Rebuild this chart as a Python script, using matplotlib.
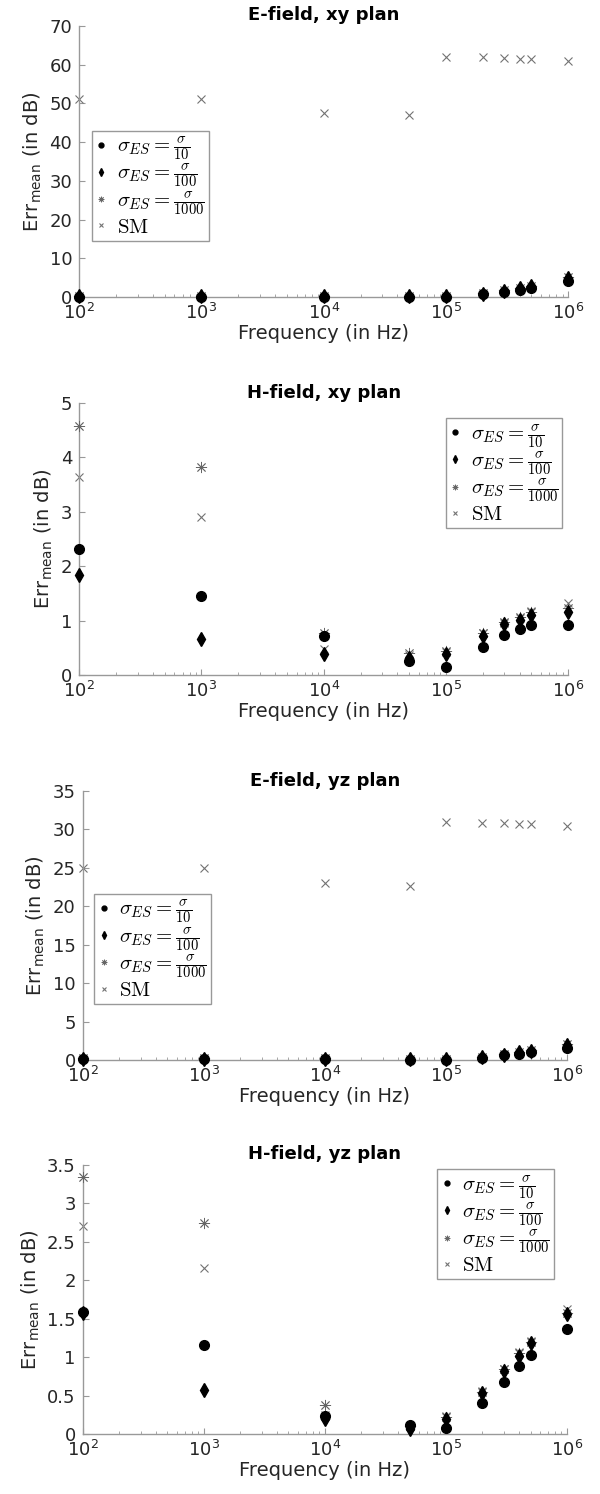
import matplotlib
matplotlib.use("Agg")
import matplotlib.pyplot as plt
from matplotlib.ticker import FixedLocator, FuncFormatter, LogLocator, NullFormatter

plt.rcParams['font.family'] = ['DejaVu Sans']
plt.rcParams['mathtext.fontset'] = 'cm'

freq = [1e2, 1e3, 1e4, 5e4, 1e5, 2e5, 3e5, 4e5, 5e5, 1e6]

# E-field, xy plan
exy_10 = [0.1, 0.1, 0.1, 0.1, 0.1, 0.7, 1.3, 1.9, 2.4, 4.1]
exy_100 = [0.2, 0.2, 0.2, 0.2, 0.3, 0.9, 1.6, 2.2, 2.8, 5.0]
exy_1000 = [0.2, 0.2, 0.2, 0.2, 0.3, 1.0, 1.7, 2.3, 2.9, 5.2]
exy_sm = [51.1, 51.1, 47.4, 47.1, 62.0, 61.9, 61.7, 61.5, 61.4, 60.9]

# H-field, xy plan
hxy_10 = [2.31, 1.46, 0.71, 0.26, 0.15, 0.52, 0.73, 0.84, 0.92, 0.92]
hxy_100 = [1.84, 0.66, 0.39, 0.31, 0.39, 0.72, 0.94, 1.02, 1.10, 1.15]
hxy_1000 = [4.58, 3.83, 0.78, 0.40, 0.45, 0.77, 0.98, 1.06, 1.15, 1.23]
hxy_sm = [3.64, 2.90, 0.47, 0.37, 0.43, 0.77, 0.96, 1.04, 1.17, 1.32]

# E-field, yz plan
eyz_10 = [0.1, 0.1, 0.1, 0.05, 0.05, 0.3, 0.6, 0.8, 1.0, 1.6]
eyz_100 = [0.15, 0.15, 0.15, 0.1, 0.1, 0.4, 0.7, 1.0, 1.2, 2.0]
eyz_1000 = [0.2, 0.2, 0.2, 0.1, 0.1, 0.45, 0.75, 1.05, 1.25, 2.1]
eyz_sm = [25.0, 25.0, 23.0, 22.7, 31.0, 30.9, 30.8, 30.7, 30.7, 30.4]

# H-field, yz plan
hyz_10 = [1.59, 1.16, 0.23, 0.11, 0.08, 0.40, 0.68, 0.89, 1.03, 1.36]
hyz_100 = [1.58, 0.57, 0.19, 0.07, 0.19, 0.53, 0.82, 1.02, 1.18, 1.56]
hyz_1000 = [3.34, 2.74, 0.38, 0.10, 0.22, 0.55, 0.84, 1.05, 1.20, 1.58]
hyz_sm = [2.70, 2.16, 0.25, 0.10, 0.23, 0.56, 0.85, 1.06, 1.21, 1.63]

labels = [r'$\sigma_{ES} = \frac{\sigma}{10}$',
          r'$\sigma_{ES} = \frac{\sigma}{100}$',
          r'$\sigma_{ES} = \frac{\sigma}{1000}$',
          r'$\mathrm{SM}$']

panels = [
    ("E-field, xy plan", [exy_10, exy_100, exy_1000, exy_sm], 70, 10,
     [0.132, 0.8012, 0.815, 0.1814], 'lower left', (0.026, 0.207)),
    ("H-field, xy plan", [hxy_10, hxy_100, hxy_1000, hxy_sm], 5, 1,
     [0.132, 0.5482, 0.815, 0.182], 'upper right', (0.988, 0.945)),
    ("E-field, yz plan", [eyz_10, eyz_100, eyz_1000, eyz_sm], 35, 5,
     [0.138, 0.2905, 0.807, 0.180], 'lower left', (0.024, 0.208)),
    ("H-field, yz plan", [hyz_10, hyz_100, hyz_1000, hyz_sm], 3.5, 0.5,
     [0.138, 0.0402, 0.807, 0.180], 'upper right', (0.973, 0.985)),
]

# black markers drawn above the grey ones
styles = [
    dict(marker='o', color='black', ms=7, ls='none', zorder=5),
    dict(marker='d', color='black', ms=7.5, ls='none', zorder=4),
    dict(marker=(8, 2, 0), color='0.4', ms=8, mew=0.6, ls='none', zorder=3),
    dict(marker='x', color='0.45', ms=6, mew=0.8, ls='none', zorder=2),
]

axis_col = '0.6'
text_col = '0.15'

fig = plt.figure(figsize=(6, 14.94), dpi=100)

for title, series, ymax, ystep, pos, loc, anchor in panels:
    ax = fig.add_axes(pos)
    for vals, st, lab in zip(series, styles, labels):
        ax.plot(freq, vals, label=lab, clip_on=False, **st)
    ax.set_xscale('log')
    ax.set_xlim(1e2, 1e6)
    ax.set_ylim(0, ymax)
    n = int(round(ymax / ystep))
    ax.yaxis.set_major_locator(FixedLocator([i * ystep for i in range(n + 1)]))
    ax.yaxis.set_major_formatter(FuncFormatter(lambda v, p: '%g' % v))
    ax.xaxis.set_major_locator(LogLocator(base=10))
    ax.xaxis.set_minor_locator(LogLocator(base=10, subs=range(2, 10)))
    ax.xaxis.set_minor_formatter(NullFormatter())

    for s in ['top', 'right']:
        ax.spines[s].set_visible(False)
    for s in ['left', 'bottom']:
        ax.spines[s].set_color(axis_col)
        ax.spines[s].set_linewidth(1)
    ax.tick_params(which='both', direction='in', color=axis_col, labelcolor=text_col,
                   labelsize=13)
    ax.tick_params(which='major', length=4)
    ax.tick_params(which='minor', length=2.5)
    ax.tick_params(axis='y', pad=5)
    ax.tick_params(axis='x', pad=4)

    ax.set_title(title, fontsize=13, fontweight='bold', pad=4)
    ax.set_xlabel("Frequency (in Hz)", fontsize=14, color=text_col, labelpad=1)
    ax.set_ylabel(r'Err$_{\mathregular{mean}}$ (in dB)', fontsize=14, color=text_col,
                  labelpad=4)

    leg = ax.legend(loc=loc, bbox_to_anchor=anchor, fontsize=15, fancybox=False,
                    edgecolor=axis_col, framealpha=1, markerscale=0.5,
                    handlelength=0.5, handletextpad=0.5, labelspacing=0.0,
                    borderpad=0.2, borderaxespad=0)
    leg.get_frame().set_linewidth(1)

fig.savefig("out.png", dpi=100)
